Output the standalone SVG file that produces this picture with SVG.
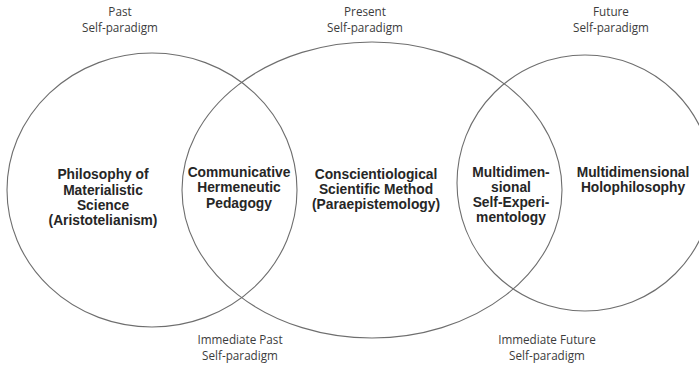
<svg xmlns="http://www.w3.org/2000/svg" width="699" height="367" viewBox="0 0 699 367">
<style>
.ring{fill:none;stroke:#6e6e6e;stroke-width:1.1}
.lbl{font-family:"Open Sans","Liberation Sans",sans-serif;font-size:11.7px;fill:#3c3c3c;text-anchor:middle}
.b{font-family:"Liberation Sans",Arial,sans-serif;font-size:13.8px;font-weight:bold;fill:#262626;text-anchor:middle}
</style>
<rect width="699" height="367" fill="#ffffff"/>
<g id="connectors"></g>
<g id="past">
<ellipse class="ring" cx="152" cy="190" rx="145" ry="137"/>
<text class="lbl" x="120" y="16">Past</text>
<text class="lbl" x="120" y="32">Self-paradigm</text>
</g>
<g id="present">
<ellipse class="ring" cx="372" cy="190" rx="190" ry="148"/>
<text class="lbl" x="365" y="16">Present</text>
<text class="lbl" x="365" y="32">Self-paradigm</text>
</g>
<g id="future">
<circle class="ring" cx="585" cy="183" r="128"/>
<text class="lbl" x="611" y="16">Future</text>
<text class="lbl" x="611" y="32">Self-paradigm</text>
</g>
<g id="immediate-past">
<text class="lbl" x="240" y="344">Immediate Past</text>
<text class="lbl" x="240" y="360">Self-paradigm</text>
</g>
<g id="immediate-future">
<text class="lbl" x="547" y="344">Immediate Future</text>
<text class="lbl" x="547" y="360">Self-paradigm</text>
</g>
<g id="materialistic">
<text class="b" x="103" y="179">Philosophy of</text>
<text class="b" x="103" y="195">Materialistic</text>
<text class="b" x="103" y="210">Science</text>
<text class="b" x="103" y="225">(Aristotelianism)</text>
</g>
<g id="hermeneutic">
<text class="b" x="239" y="177">Communicative</text>
<text class="b" x="239" y="192">Hermeneutic</text>
<text class="b" x="239" y="208">Pedagogy</text>
</g>
<g id="conscientiological">
<text class="b" x="376" y="179">Conscientiological</text>
<text class="b" x="376" y="194">Scientific Method</text>
<text class="b" x="376" y="209">(Paraepistemology)</text>
</g>
<g id="self-experimentology">
<text class="b" x="511" y="177">Multidimen-</text>
<text class="b" x="511" y="192">sional</text>
<text class="b" x="511" y="207">Self-Experi-</text>
<text class="b" x="511" y="222">mentology</text>
</g>
<g id="holophilosophy">
<text class="b" x="633" y="177">Multidimensional</text>
<text class="b" x="633" y="192">Holophilosophy</text>
</g>
</svg>
